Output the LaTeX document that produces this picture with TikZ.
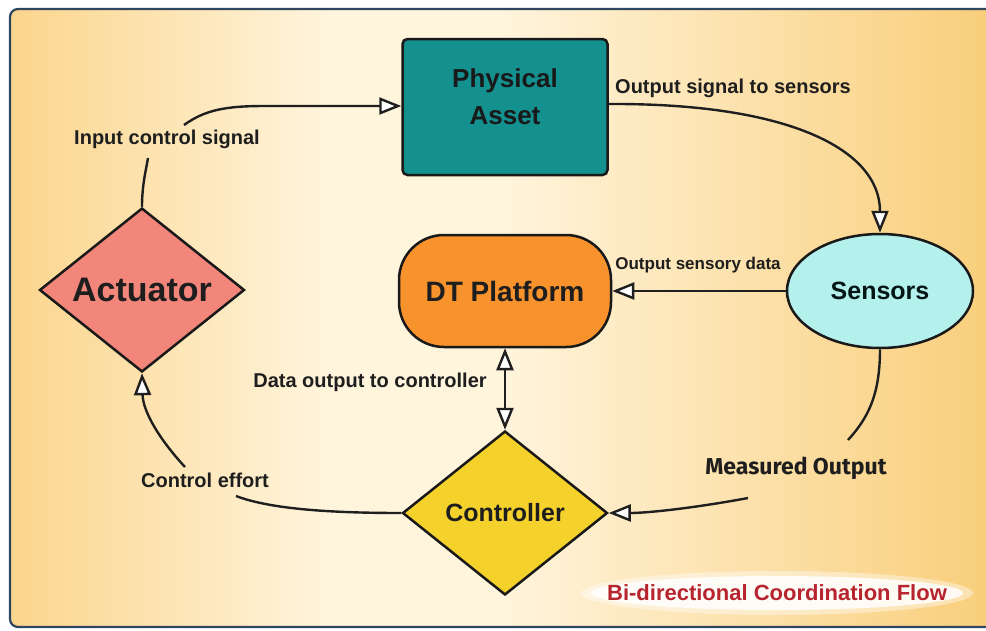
\documentclass[tikz,border=0pt]{standalone}
\usepackage{fontspec}
\setmainfont{Liberation Sans}
\newfontfamily\mofont{Fira Sans}
\usetikzlibrary{shapes.geometric,arrows.meta,calc}
\definecolor{bgL}{HTML}{FBD58C}
\definecolor{bgM}{HTML}{FFF4DC}
\definecolor{bgR}{HTML}{F9CE7A}
\definecolor{frameC}{HTML}{2E4660}
\definecolor{teal}{HTML}{14908F}
\definecolor{salmon}{HTML}{F2867A}
\definecolor{orng}{HTML}{F7922D}
\definecolor{cyanl}{HTML}{B4F0EC}
\definecolor{yell}{HTML}{F5D12C}
\definecolor{txt}{HTML}{1E1E1E}
\definecolor{redt}{HTML}{B8242E}
\pgfdeclarehorizontalshading{bgshade}{100bp}{color(0bp)=(bgL); color(25bp)=(bgL); color(41bp)=(bgM); color(50bp)=(bgM); color(75bp)=(bgR); color(100bp)=(bgR)}
\begin{document}
\begin{tikzpicture}[x=1pt,y=-1pt,
  box/.style={draw=black!90, line width=2.5pt, text=txt, font=\bfseries, inner sep=0pt, align=center},
  conn/.style={line width=2.4pt, draw=black!88},
  lbl/.style={font=\bfseries\fontsize{20}{22}\selectfont, text=txt, inner sep=0pt},
  arr/.style={-{Triangle[fill=white,length=22pt,width=17pt]}},
  darr/.style={{Triangle[fill=white,length=22pt,width=17pt]}-{Triangle[fill=white,length=22pt,width=17pt]}}]
\useasboundingbox (0,0) rectangle (986,630);
\fill[white] (0,0) rectangle (986,630);
\shade[shading=bgshade, rounded corners=8pt] (10,9) rectangle (995,627);
\draw[frameC, line width=2.2pt, rounded corners=8pt] (10,9) rectangle (995,627);

% nodes
\node[box, rectangle, rounded corners=5pt, fill=teal, minimum width=205pt, minimum height=136pt] (pa) at (505,107) {};
\node[align=center, inner sep=0pt, font=\bfseries\fontsize{26}{37}\selectfont, text=black!90] (patext) at (505,97) {Physical\\Asset};
\node[box, diamond, aspect=1.25, fill=salmon, minimum width=205pt, minimum height=164pt,
  font=\bfseries\fontsize{34}{38}\selectfont] (act) at (142,290) {Actuator};
\node[box, rectangle, rounded corners=45pt, fill=orng, minimum width=212pt, minimum height=112pt,
  font=\bfseries\fontsize{28}{32}\selectfont] (dt) at (505,291) {DT Platform};
\node[box, ellipse, fill=cyanl, minimum width=186pt, minimum height=114pt,
  font=\bfseries\fontsize{25}{30}\selectfont, text=black!85!teal] (sn) at (880,291) {Sensors};
\node[box, diamond, aspect=1.25, fill=yell, minimum width=205pt, minimum height=164pt,
  font=\bfseries\fontsize{25}{30}\selectfont] (ct) at (505,513) {Controller};

% labels
\node[lbl] (ics) at (167,139) {Input control signal};
\node[lbl, anchor=west] (ost) at (615,88) {Output signal to sensors};
\node[lbl, font=\bfseries\fontsize{17}{20}\selectfont] (osd) at (698,265) {Output sensory data};
\node[lbl] (doc) at (370,382) {Data output to controller};
\node[lbl] (ce) at (205,480) {Control effort};
\node[lbl, font=\mofont\bfseries\fontsize{23}{26}\selectfont] (mo) at (796,468) {Measured Output};

% bottom tag
\fill[white, opacity=0.4] (777,593) ellipse [x radius=196pt, y radius=22pt];
\fill[white, opacity=0.85] (777,593) ellipse [x radius=186pt, y radius=17pt];
\node[lbl, font=\bfseries\fontsize{22}{26}\selectfont, text=redt] (bdf) at (777,593) {Bi-directional Coordination Flow};

% connectors
\coordinate (a1) at (148,158);
\coordinate (a2) at (184,125);
\draw[conn] (act.north) .. controls (142,185) and (146,170) .. (a1);
\draw[conn,arr] (a2) .. controls (205,110) and (225,106) .. (265,106) -- (pa.west |- 0,106);
\draw[conn,arr] (pa.east |- 0,104) .. controls (790,103) and (880,150) .. (sn.north);
\draw[conn,arr] (sn.west) -- (dt.east);
\draw[conn,darr] (dt.south) -- (ct.north);
\coordinate (m1) at (848,440);
\coordinate (m2) at (748,498);
\draw[conn] (sn.south) .. controls (880,395) and (868,418) .. (m1);
\draw[conn,arr] (m2) .. controls (700,507) and (650,513) .. (ct.east);
\coordinate (c1) at (236,496);
\coordinate (c2) at (185,467);
\draw[conn] (ct.west) .. controls (330,513) and (270,509) .. (c1);
\draw[conn,arr] (c2) .. controls (160,440) and (143,412) .. (act.south);
\end{tikzpicture}
\end{document}
